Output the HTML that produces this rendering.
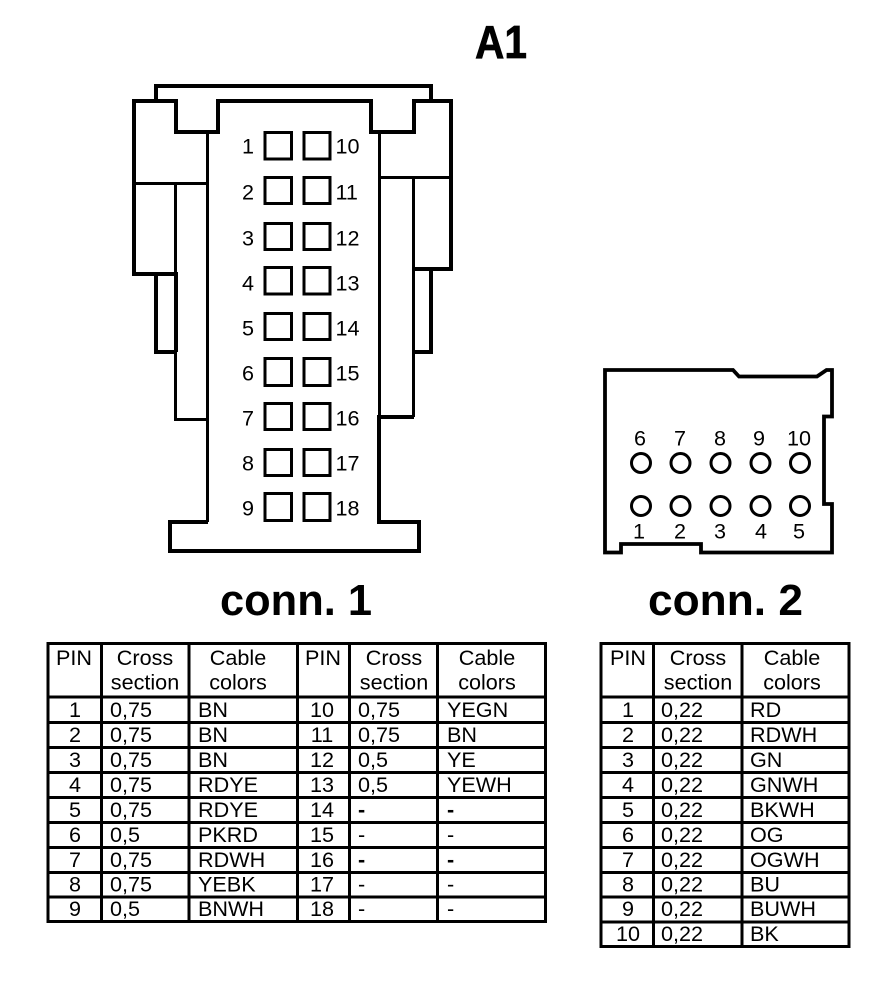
<!DOCTYPE html>
<html><head><meta charset="utf-8"><style>
html,body{margin:0;padding:0;background:#fff;width:896px;height:992px;overflow:hidden}
svg{display:block}
text{font-family:"Liberation Sans",Arial,sans-serif;font-size:21.6px;fill:#000}
.b{font-weight:bold}
.e{text-anchor:end}.m{text-anchor:middle}
.g{fill:none;stroke:#000;stroke-width:4;shape-rendering:crispEdges}
.h{fill:none;stroke:#000;stroke-width:3;shape-rendering:crispEdges}
.tb{fill:none;stroke:#000;stroke-width:3;shape-rendering:crispEdges}
.s{fill:#fff;stroke:#000;stroke-width:3;shape-rendering:crispEdges}
.c{fill:none;stroke:#000;stroke-width:3}
</style></head><body>
<svg width="896" height="992" viewBox="0 0 896 992" xmlns="http://www.w3.org/2000/svg">
<text class="b" x="475" y="58" style="font-size:46px;stroke:#000;stroke-width:.7" textLength="52" lengthAdjust="spacingAndGlyphs">A1</text>
<text class="b" x="220" y="615" style="font-size:43.5px" textLength="152" lengthAdjust="spacingAndGlyphs">conn. 1</text>
<text class="b" x="648" y="615" style="font-size:43.5px" textLength="155" lengthAdjust="spacingAndGlyphs">conn. 2</text>

<!-- connector 1 -->
<path class="g" d="M156 101V86H431V101"/>
<path class="g" d="M156 274V352H176M431 269V352H413"/>
<path class="g" d="M176 352V274H134V101H176V132H218V101H371V132H414V101H451V269H414"/>
<path class="g" d="M379 415V522H419V551H170V522H208"/>
<path class="g" d="M379 417H414"/>
<path class="h" d="M207.500 132V522M379.500 132V417M134 183.500H207.500M379.500 177.500H451M175.500 183.500V419.500H207.500M413.500 177.500V417"/>
<rect class="s" x="265" y="132.500" width="26.500" height="26.500"/><rect class="s" x="304" y="132.500" width="26" height="26.500"/>
<rect class="s" x="265" y="177.500" width="26.500" height="26"/><rect class="s" x="304" y="177.500" width="26" height="26"/>
<rect class="s" x="265" y="223.500" width="26.500" height="26"/><rect class="s" x="304" y="223.500" width="26" height="26"/>
<rect class="s" x="265" y="267.500" width="26.500" height="26.500"/><rect class="s" x="304" y="267.500" width="26" height="26.500"/>
<rect class="s" x="265" y="313.500" width="26.500" height="26"/><rect class="s" x="304" y="313.500" width="26" height="26"/>
<rect class="s" x="265" y="358.500" width="26.500" height="27"/><rect class="s" x="304" y="358.500" width="26" height="27"/>
<rect class="s" x="265" y="403.500" width="26.500" height="26"/><rect class="s" x="304" y="403.500" width="26" height="26"/>
<rect class="s" x="265" y="449.500" width="26.500" height="26"/><rect class="s" x="304" y="449.500" width="26" height="26"/>
<rect class="s" x="265" y="493.500" width="26.500" height="27"/><rect class="s" x="304" y="493.500" width="26" height="27"/>
<g transform="translate(0,-0.6)">
<text class="e" x="254" y="154">1</text><text x="335.500" y="154">10</text>
<text class="e" x="254" y="200">2</text><text x="335.500" y="200">11</text>
<text class="e" x="254" y="246">3</text><text x="335.500" y="246">12</text>
<text class="e" x="254" y="291">4</text><text x="335.500" y="291">13</text>
<text class="e" x="254" y="336">5</text><text x="335.500" y="336">14</text>
<text class="e" x="254" y="381">6</text><text x="335.500" y="381">15</text>
<text class="e" x="254" y="426">7</text><text x="335.500" y="426">16</text>
<text class="e" x="254" y="471">8</text><text x="335.500" y="471">17</text>
<text class="e" x="254" y="516">9</text><text x="335.500" y="516">18</text>
</g>

<!-- connector 2 -->
<path d="M605 370H733L739 376.500H817L826.500 370H832V416.500H824V504H832V552.500H701V544H621V552.500H605Z" fill="none" stroke="#000" stroke-width="3.800"/>
<circle class="c" cx="641" cy="463" r="9.500"/><circle class="c" cx="680.500" cy="463" r="9.500"/><circle class="c" cx="720.500" cy="463" r="9.500"/><circle class="c" cx="760.500" cy="463" r="9.500"/><circle class="c" cx="800" cy="463" r="9.500"/>
<circle class="c" cx="641" cy="506" r="9.500"/><circle class="c" cx="680.500" cy="506" r="9.500"/><circle class="c" cx="720.500" cy="506" r="9.500"/><circle class="c" cx="760.500" cy="506" r="9.500"/><circle class="c" cx="800" cy="506" r="9.500"/>
<g transform="translate(0,-0.6)">
<text class="m" x="640" y="446">6</text><text class="m" x="680" y="446">7</text><text class="m" x="720" y="446">8</text><text class="m" x="759" y="446">9</text><text class="m" x="799" y="446">10</text>
<text class="m" x="639" y="539">1</text><text class="m" x="680" y="539">2</text><text class="m" x="720" y="539">3</text><text class="m" x="761" y="539">4</text><text class="m" x="799" y="539">5</text>
</g>

<!-- table 1 -->
<path class="tb" d="M48 643.500H545.500V921.500H48ZM101.500 643.500V921.500M189 643.500V921.500M297.500 643.500V921.500M349.500 643.500V921.500M437.500 643.500V921.500M48 697H545.500M48 722.500H545.500M48 747.500H545.500M48 772.500H545.500M48 797.500H545.500M48 822.500H545.500M48 847.500H545.500M48 872.500H545.500M48 897H545.500"/>
<text class="m" x="74" y="665">PIN</text><text class="m" x="145" y="665">Cross</text><text class="m" x="145" y="689.500">section</text><text class="m" x="238" y="665">Cable</text><text class="m" x="238" y="689.500">colors</text>
<text class="m" x="323" y="665">PIN</text><text class="m" x="394" y="665">Cross</text><text class="m" x="394" y="689.500">section</text><text class="m" x="487" y="665">Cable</text><text class="m" x="487" y="689.500">colors</text>
<g transform="translate(0,-1)">
<text class="m" x="75" y="718">1</text><text x="110" y="718">0,75</text><text x="198" y="718">BN</text><text class="m" x="322" y="718">10</text><text x="358" y="718">0,75</text><text x="447" y="718">YEGN</text>
<text class="m" x="75" y="743">2</text><text x="110" y="743">0,75</text><text x="198" y="743">BN</text><text class="m" x="322" y="743">11</text><text x="358" y="743">0,75</text><text x="447" y="743">BN</text>
<text class="m" x="75" y="768">3</text><text x="110" y="768">0,75</text><text x="198" y="768">BN</text><text class="m" x="322" y="768">12</text><text x="358" y="768">0,5</text><text x="447" y="768">YE</text>
<text class="m" x="75" y="793">4</text><text x="110" y="793">0,75</text><text x="198" y="793">RDYE</text><text class="m" x="322" y="793">13</text><text x="358" y="793">0,5</text><text x="447" y="793">YEWH</text>
<text class="m" x="75" y="818">5</text><text x="110" y="818">0,75</text><text x="198" y="818">RDYE</text><text class="m" x="322" y="818">14</text><text class="b" x="358" y="818">-</text><text class="b" x="447" y="818">-</text>
<text class="m" x="75" y="843">6</text><text x="110" y="843">0,5</text><text x="198" y="843">PKRD</text><text class="m" x="322" y="843">15</text><text x="358" y="843">-</text><text x="447" y="843">-</text>
<text class="m" x="75" y="868">7</text><text x="110" y="868">0,75</text><text x="198" y="868">RDWH</text><text class="m" x="322" y="868">16</text><text class="b" x="358" y="868">-</text><text class="b" x="447" y="868">-</text>
<text class="m" x="75" y="892.500">8</text><text x="110" y="892.500">0,75</text><text x="198" y="892.500">YEBK</text><text class="m" x="322" y="892.500">17</text><text x="358" y="892.500">-</text><text x="447" y="892.500">-</text>
<text class="m" x="75" y="917">9</text><text x="110" y="917">0,5</text><text x="198" y="917">BNWH</text><text class="m" x="322" y="917">18</text><text x="358" y="917">-</text><text x="447" y="917">-</text>
</g>

<!-- table 2 -->
<path class="tb" d="M601 643.500H849V946.500H601ZM653.500 643.500V946.500M742 643.500V946.500M601 697H849M601 722.500H849M601 747.500H849M601 772.500H849M601 797.500H849M601 822.500H849M601 847.500H849M601 872.500H849M601 897H849M601 922H849"/>
<text class="m" x="628" y="665">PIN</text><text class="m" x="698" y="665">Cross</text><text class="m" x="698" y="689.500">section</text><text class="m" x="792" y="665">Cable</text><text class="m" x="792" y="689.500">colors</text>
<g transform="translate(0,-1)">
<text class="m" x="628" y="718">1</text><text x="661" y="718">0,22</text><text x="750" y="718">RD</text>
<text class="m" x="628" y="743">2</text><text x="661" y="743">0,22</text><text x="750" y="743">RDWH</text>
<text class="m" x="628" y="768">3</text><text x="661" y="768">0,22</text><text x="750" y="768">GN</text>
<text class="m" x="628" y="793">4</text><text x="661" y="793">0,22</text><text x="750" y="793">GNWH</text>
<text class="m" x="628" y="818">5</text><text x="661" y="818">0,22</text><text x="750" y="818">BKWH</text>
<text class="m" x="628" y="843">6</text><text x="661" y="843">0,22</text><text x="750" y="843">OG</text>
<text class="m" x="628" y="868">7</text><text x="661" y="868">0,22</text><text x="750" y="868">OGWH</text>
<text class="m" x="628" y="892.500">8</text><text x="661" y="892.500">0,22</text><text x="750" y="892.500">BU</text>
<text class="m" x="628" y="917">9</text><text x="661" y="917">0,22</text><text x="750" y="917">BUWH</text>
<text class="m" x="628" y="942">10</text><text x="661" y="942">0,22</text><text x="750" y="942">BK</text>
</g>
</svg>
</body></html>
